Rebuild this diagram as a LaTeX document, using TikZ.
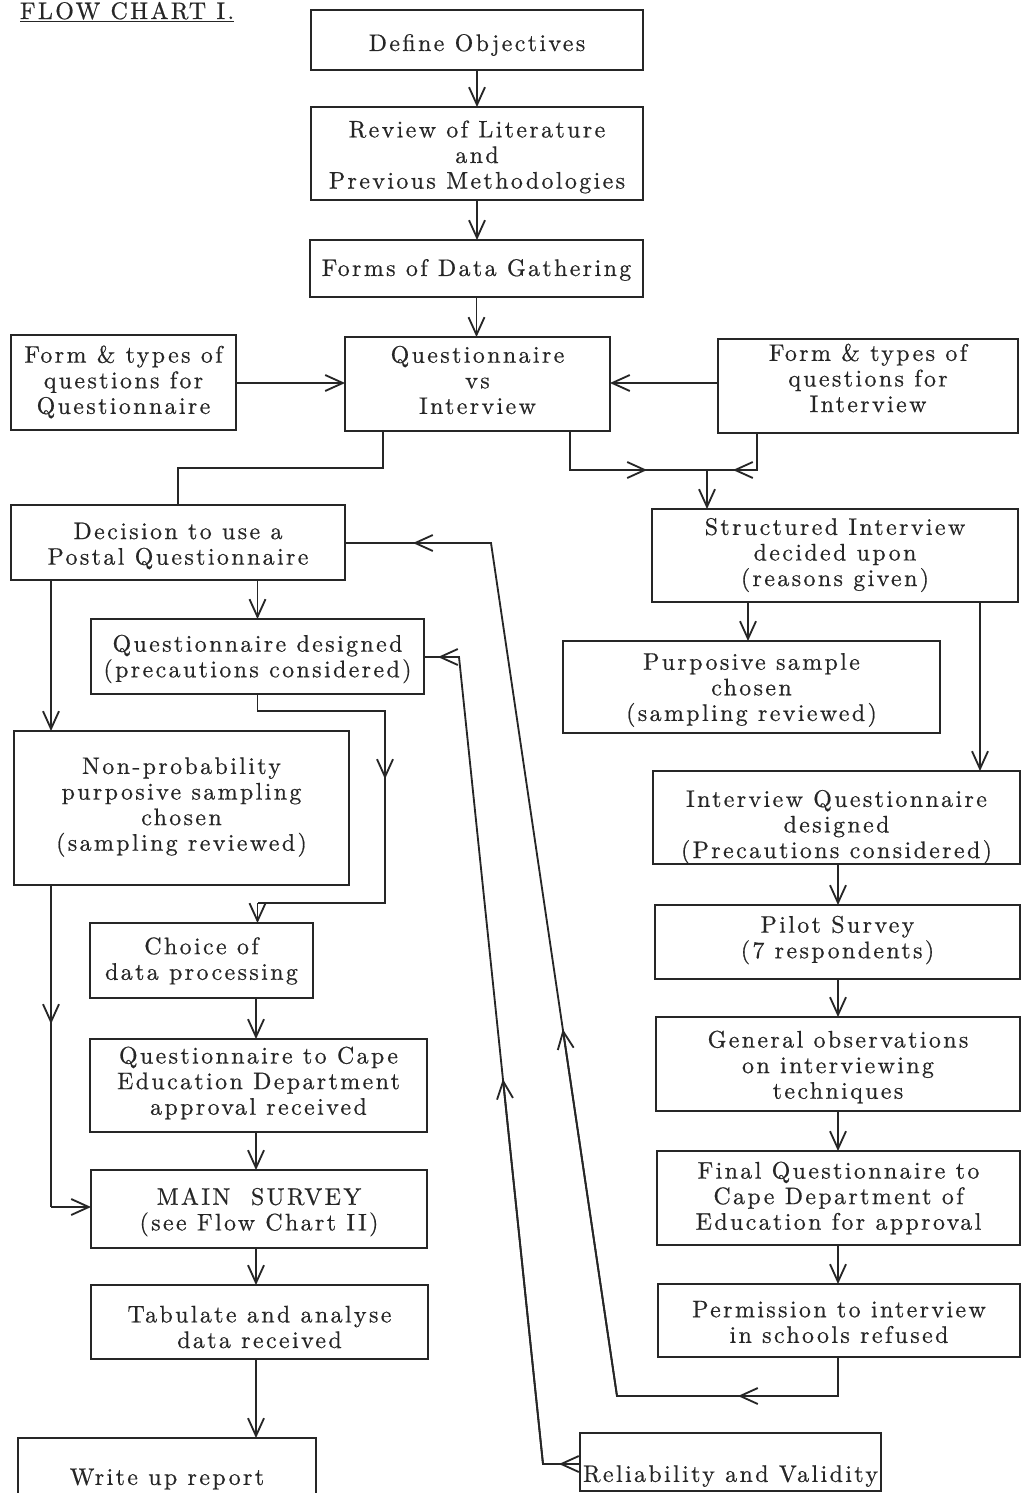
\documentclass[tikz,border=0pt]{standalone}
\usepackage{fontspec}
\usetikzlibrary{arrows.meta,calc}
\newfontfamily\chartfam{lmroman10-regular.otf}[LetterSpace=10,FakeBold=0.6]
\newcommand\chartfont{\chartfam\fontsize{17}{18.2}\selectfont}
\tikzset{
  box/.style={draw=black!85, line width=1.3pt, inner sep=0pt, outer sep=0pt},
  txt/.style={inner sep=0pt, outer sep=0pt, align=center, font=\chartfont, text=black!85},
  ln/.style={draw=black!85, line width=1.3pt},
  arr/.style={ln, -{Straight Barb[length=0.44cm, width=0.4cm]}},
}
% \bx{name}{x1}{y1}{x2}{y2}{text}{text centre y}
\newcommand\bx[7]{%
  \node[box, minimum width={(#4-#2)*0.025cm}, minimum height={(#5-#3)*0.025cm}]
     (#1) at ({(#2+#4)/2},{(#3+#5)/2}) {};
  \node[txt] (#1t) at ({(#2+#4)/2},#7) {#6};}
\begin{document}
\begin{tikzpicture}[x=0.025cm,y=-0.025cm]
\clip (0,0) rectangle (1021,1493);
\fill[white] (0,0) rectangle (1021,1493);

\node[txt, anchor=base west] (title) at (20,19) {\underline{FLOW CHART I.}};

\bx{def}{311}{10}{643}{70}{Define Objectives}{45}
\bx{rev}{311}{107}{643}{200}{Review of Literature\\and\\Previous Methodologies}{157}
\bx{forms}{310}{240}{643}{297}{Forms of Data Gathering}{270}
\bx{fq}{11}{335}{236}{430}{Form \& types of\\questions for\\Questionnaire}{382}
\bx{qvi}{345}{337}{610}{431}{Questionnaire\\vs\\Interview}{380}
\bx{fi}{718}{339}{1018}{433}{Form \& types of\\questions for\\Interview}{378}
\bx{dec}{11}{505}{345}{580}{Decision to use a\\Postal Questionnaire}{546}
\bx{si}{652}{509}{1018}{602}{Structured Interview\\decided upon\\(reasons given)}{555}
\bx{qd}{91}{619}{424}{694}{Questionnaire designed\\(precautions considered)}{659}
\bx{ps}{563}{641}{940}{733}{Purposive sample\\chosen\\(sampling reviewed)}{690}
\bx{np}{14}{731}{349}{885}{Non-probability\\purposive sampling\\chosen\\(sampling reviewed)}{807}
\bx{iqd}{653}{771}{1020}{864}{Interview Questionnaire\\designed\\(Precautions considered)}{827}
\bx{choice}{90}{923}{313}{998}{Choice of\\data processing}{961}
\bx{pilot}{655}{905}{1020}{979}{Pilot Survey\\(7 respondents)}{940}
\bx{qcape}{90}{1039}{427}{1132}{Questionnaire to Cape\\Education Department\\approval received}{1083}
\bx{gen}{656}{1017}{1020}{1111}{General observations\\on interviewing\\techniques}{1067}
\bx{main}{91}{1170}{427}{1248}{MAIN~~SURVEY\\(see Flow Chart II)}{1212}
\bx{final}{657}{1151}{1020}{1245}{Final Questionnaire to\\Cape Department of\\Education for approval}{1198}
\bx{tab}{91}{1285}{428}{1359}{Tabulate and analyse\\data received}{1327}
\bx{perm}{658}{1284}{1020}{1357}{Permission to interview\\in schools refused}{1322}
\bx{write}{18}{1438}{316}{1520}{Write up report}{1479}
\bx{rel}{580}{1433}{881}{1491}{Reliability and Validity}{1476}

% top column
\draw[arr] (def.south) -- (def.south |- rev.north);
\draw[arr] (rev.south) -- (rev.south |- forms.north);
\draw[arr] (forms.south) -- (forms.south |- qvi.north);
\coordinate (fqy) at (0,383);
\draw[arr] (fq.east |- fqy) -- (qvi.west |- fqy);
\draw[arr] (fi.west |- fqy) -- (qvi.east |- fqy);

% Questionnaire vs Interview -> Decision
\coordinate (k1) at (383,468);
\draw[ln] (k1 |- qvi.south) -- (k1) -- (k1 -| dec.north) -- (dec.north);

% Questionnaire vs Interview / Form for Interview -> Structured Interview
\coordinate (k2) at (570,470);
\coordinate (jn) at (707,470);
\coordinate (k3) at (757,470);
\coordinate (ha) at (647,470);
\coordinate (hb) at (733,470);
\draw[ln] (k2 |- qvi.south) -- (k2) -- (k3) -- (k3 |- fi.south);
\draw[arr] (k2) -- (ha);
\draw[arr] (k3) -- (hb);
\draw[arr] (jn) -- (jn |- si.north);

% left branch
\coordinate (cL) at (51,0);
\draw[arr] (qd.north |- dec.south) -- (qd.north);
\draw[arr] (cL |- dec.south) -- (cL |- np.north);

\coordinate (q1) at (385,711);
\coordinate (q2) at (385,903);
\coordinate (q3) at (385,779);
\draw[ln] (qd.south) -- (qd.south |- q1) -- (q1) -- (q2) -- (q2 -| qd.south);
\draw[arr] (q2 -| qd.south) -- (qd.south |- choice.north);
\draw[arr] (q1) -- (q3);

\coordinate (cM) at (256,0);
\draw[arr] (cM |- choice.south) -- (cM |- qcape.north);
\draw[arr] (cM |- qcape.south) -- (cM |- main.north);
\draw[arr] (cM |- main.south) -- (cM |- tab.north);
\draw[arr] (cM |- tab.south) -- (cM |- write.north);

\coordinate (n1) at (51,1207);
\coordinate (n2) at (51,1024);
\draw[ln] (cL |- np.south) -- (n1);
\draw[arr] (n1) -- (n1 -| main.west);
\draw[arr] (cL |- np.south) -- (n2);

% right branch
\coordinate (cP) at (748,0);
\coordinate (cR) at (980,0);
\coordinate (cC) at (838,0);
\draw[arr] (cP |- si.south) -- (cP |- ps.north);
\draw[arr] (cR |- si.south) -- (cR |- iqd.north);
\draw[arr] (cC |- iqd.south) -- (cC |- pilot.north);
\draw[arr] (cC |- pilot.south) -- (cC |- gen.north);
\draw[arr] (cC |- gen.south) -- (cC |- final.north);
\draw[arr] (cC |- final.south) -- (cC |- perm.north);

% Permission refused -> back to Decision
\coordinate (p1) at (838,1396);
\coordinate (p2) at (617,1396);
\coordinate (p3) at (491,543);
\coordinate (pa) at (738,1396);
\coordinate (pb) at ($(p2)!0.43!(p3)$);
\coordinate (pc) at (413,543);
\draw[ln] (cC |- perm.south) -- (p1) -- (p2) -- (p3) -- (p3 -| dec.east);
\draw[arr] (p1) -- (pa);
\draw[arr] (p2) -- (pb);
\draw[arr] (p3) -- (pc);

% Reliability and Validity -> Questionnaire designed
\coordinate (r1) at (543,1464);
\coordinate (r2) at (459,657);
\coordinate (ra) at (559,1464);
\coordinate (rb) at ($(r1)!0.477!(r2)$);
\coordinate (rc) at (438,657);
\draw[ln] (rel.west |- r1) -- (r1) -- (r2) -- (r2 -| qd.east);
\draw[arr] (rel.west |- r1) -- (ra);
\draw[arr] (r1) -- (rb);
\draw[arr] (r2) -- (rc);
\end{tikzpicture}
\end{document}
